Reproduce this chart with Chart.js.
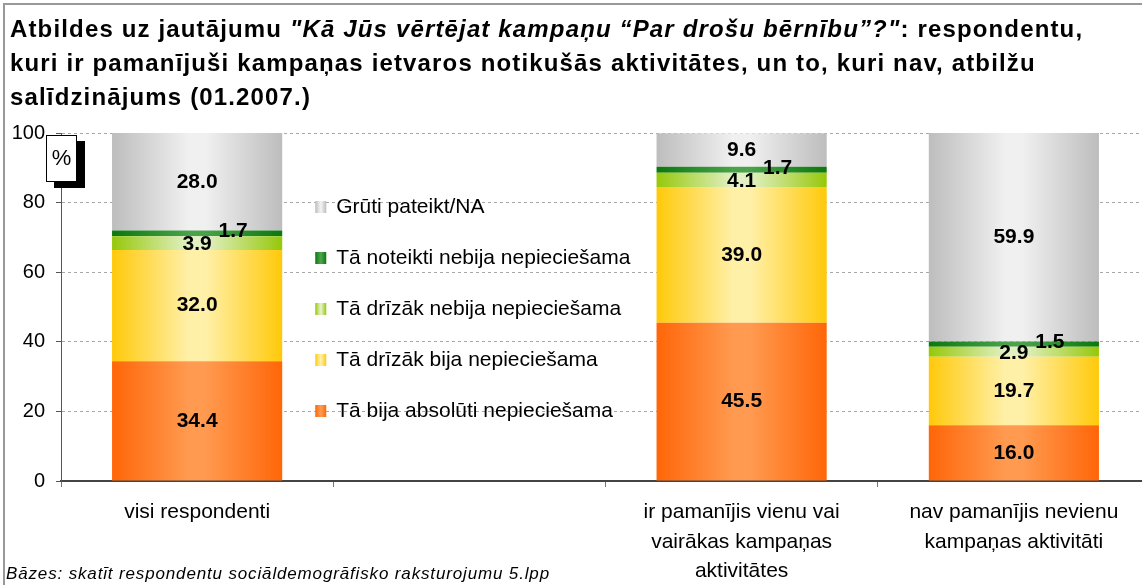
<!DOCTYPE html>
<html lang="lv">
<head>
<meta charset="utf-8">
<script src="https://cdn.jsdelivr.net/npm/chart.js@4/dist/chart.umd.min.js"></script>
<style>
  html, body { margin: 0; padding: 0; background: #fff; overflow: hidden; }
  #wrap { position: relative; width: 1142px; height: 585px; overflow: hidden; }
  #frame { position: absolute; left: 3px; top: 3px; right: 0; bottom: 0; border-left: 2px solid #999; border-top: 2px solid #999; }
  #title { position: absolute; left: 10px; top: 12px; font: bold 24px "Liberation Sans", Arial, sans-serif; letter-spacing: 1.15px; line-height: 34px; color: #000; white-space: nowrap; }
  #title i { font-style: italic; }
  #note { position: absolute; left: 6px; top: 564px; font: italic 17px "Liberation Sans", Arial, sans-serif; letter-spacing: 0.85px; color: #000; white-space: nowrap; }
  #pct { position: absolute; left: 46px; top: 135px; width: 29px; height: 45px; background: #fff; border: 1px solid #000; box-shadow: 8px 6px 0 #000; font: 22px "Liberation Sans", Arial, sans-serif; text-align: center; line-height: 44px; }
  canvas { position: absolute; left: 0; top: 0; }
</style>
</head>
<body>
<div id="wrap">
  <canvas id="chart" width="1160" height="585"></canvas>
  <div id="frame"></div>
  <div id="title">Atbildes uz jautājumu <i>"Kā Jūs vērtējat kampaņu “Par drošu bērnību”?"</i>: respondentu,<br>kuri ir pamanījuši kampaņas ietvaros notikušās aktivitātes, un to, kuri nav, atbilžu<br>salīdzinājums (01.2007.)</div>
  <div id="pct">%</div>
  <div id="note">Bāzes: skatīt respondentu sociāldemogrāfisko raksturojumu 5.lpp</div>
</div>
<script>
// kategorijas (otrā vieta tukša – tur atrodas leģenda)
const categories = [
    ['visi respondenti'],
    [''],
    ['ir pamanījis vienu vai', 'vairākas kampaņas', 'aktivitātes'],
    ['nav pamanījis nevienu', 'kampaņas aktivitāti']
];
const seriesNames = [
    'Tā bija absolūti nepieciešama',
    'Tā drīzāk bija nepieciešama',
    'Tā drīzāk nebija nepieciešama',
    'Tā noteikti nebija nepieciešama',
    'Grūti pateikt/NA'
];
const absoluti = [34.4, null, 45.5, 16.0];
const drizakBija = [32.0, null, 39.0, 19.7];
const drizakNebija = [3.9, null, 4.1, 2.9];
const noteiktiNebija = [1.7, null, 1.7, 1.5];
const grutiPateikt = [28.0, null, 9.6, 59.9];
const yTicks = [0, 20, 40, 60, 80, 100];

// krāsas: [mala, vidus]
const palette = [
    ['#ff6608', '#ff9a50'],
    ['#ffc90a', '#fff0a8'],
    ['#96c80a', '#e2f0c4'],
    ['#0c780c', '#4aa24a'],
    ['#bdbdbd', '#f0f0f0']
];
// mazo segmentu uzrakstu nobīde
const labelShift = [[0, 0], [0, 0], [0, 1], [36, -2], [0, 0]];

const BAR_PCT = 0.625;
const FONT = '"Liberation Sans", Arial, sans-serif';

function barGradient(ctx, left, right, cols) {
    const g = ctx.createLinearGradient(left, 0, right, 0);
    g.addColorStop(0, cols[0]);
    g.addColorStop(0.45, cols[1]);
    g.addColorStop(0.55, cols[1]);
    g.addColorStop(1, cols[0]);
    return g;
}

function bgFor(i) {
    return function(context) {
        const chart = context.chart;
        const xs = chart.scales.x;
        if (!chart.chartArea || !xs || context.dataIndex === undefined) {
            return palette[i][0];
        }
        const w = xs.width / categories.length * BAR_PCT;
        const cx = xs.getPixelForValue(context.dataIndex);
        return barGradient(chart.ctx, cx - w / 2, cx + w / 2, palette[i]);
    };
}

const seriesData = [absoluti, drizakBija, drizakNebija, noteiktiNebija, grutiPateikt];

const valueLabels = {
    id: 'valueLabels',
    afterDatasetsDraw(chart) {
        const ctx = chart.ctx;
        ctx.save();
        ctx.font = 'bold 21px ' + FONT;
        ctx.fillStyle = '#000';
        ctx.textAlign = 'center';
        ctx.textBaseline = 'middle';
        chart.data.datasets.forEach((ds, i) => {
            const meta = chart.getDatasetMeta(i);
            meta.data.forEach((el, j) => {
                const v = ds.data[j];
                if (v === null || v === undefined) return;
                const y = (el.y + el.base) / 2;
                ctx.fillText(v.toFixed(1), el.x + labelShift[i][0], y + labelShift[i][1]);
            });
        });
        ctx.restore();
    }
};

const legendInside = {
    id: 'legendInside',
    afterDraw(chart) {
        const ctx = chart.ctx;
        const xs = chart.scales.x;
        const area = chart.chartArea;
        const left = xs.getPixelForValue(1) - xs.width / categories.length / 2 - 18;
        const top = area.top + 74;
        ctx.save();
        ctx.font = '21px ' + FONT;
        ctx.textBaseline = 'middle';
        ctx.textAlign = 'left';
        for (let k = 0; k < seriesNames.length; k++) {
            const i = seriesNames.length - 1 - k;
            const y = top + k * 51;
            ctx.fillStyle = barGradient(ctx, left, left + 11, palette[i]);
            ctx.fillRect(left, y - 6, 11, 12);
            ctx.fillStyle = '#000';
            ctx.fillText(seriesNames[i], left + 21, y);
        }
        ctx.restore();
    }
};

new Chart(document.getElementById('chart'), {
    type: 'bar',
    data: {
        labels: categories,
        datasets: seriesData.map((d, i) => ({
            label: seriesNames[i],
            data: d,
            backgroundColor: bgFor(i),
            borderWidth: 0,
            barPercentage: BAR_PCT,
            categoryPercentage: 1
        }))
    },
    options: {
        responsive: false,
        animation: false,
        layout: { padding: { top: 133, right: 10, left: 0, bottom: 0 } },
        plugins: {
            legend: { display: false },
            tooltip: { enabled: false },
            title: { display: false }
        },
        scales: {
            x: {
                stacked: true,
                grid: { drawOnChartArea: false, drawTicks: true, tickLength: 6, color: '#777', tickWidth: 1 },
                border: { display: true, color: '#444', width: 2 },
                ticks: {
                    color: '#000',
                    font: { family: FONT, size: 21, lineHeight: 1.4 },
                    padding: 11,
                    maxRotation: 0,
                    autoSkip: false
                },
                afterFit(scale) { scale.height = 104; }
            },
            y: {
                stacked: true,
                min: 0,
                max: 100,
                afterBuildTicks(scale) { scale.ticks = yTicks.map(v => ({ value: v })); },
                grid: {
                    color: '#a8a8a8',
                    lineWidth: 1,
                    tickLength: 5,
                    tickColor: '#555',
                    tickBorderDash: []
                },
                border: { display: true, color: '#555', width: 1, dash: [3, 3] },
                ticks: {
                    color: '#000',
                    font: { family: FONT, size: 20 },
                    padding: 11
                },
                afterFit(scale) { scale.width = 61; }
            }
        }
    },
    plugins: [valueLabels, legendInside]
});
</script>
</body>
</html>
